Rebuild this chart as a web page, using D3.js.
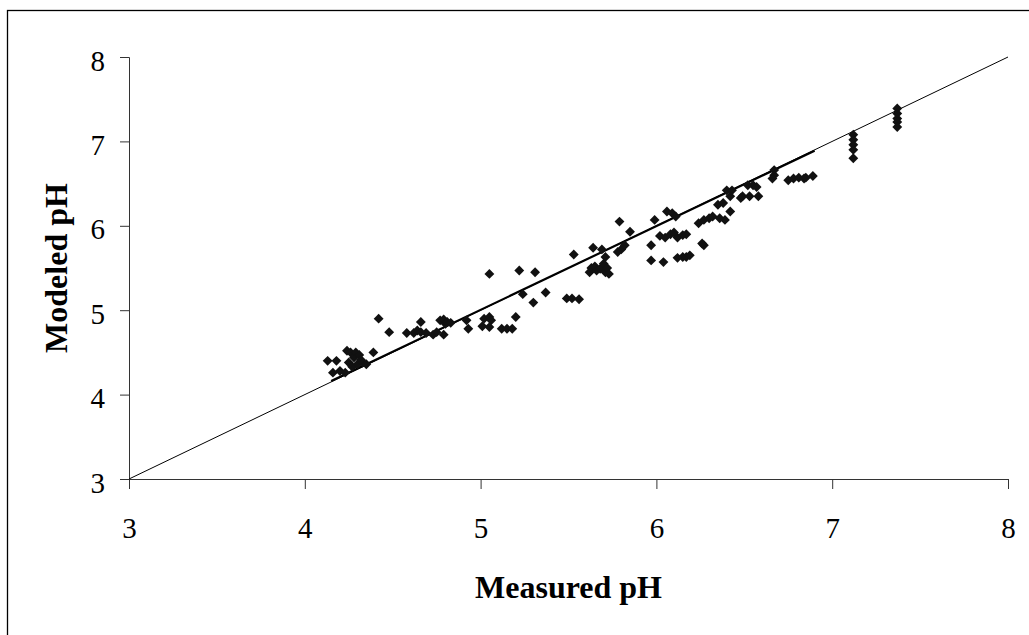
<!DOCTYPE html>
<html>
<head>
<meta charset="utf-8">
<script src="https://cdn.jsdelivr.net/npm/d3@7"></script>
<style>
  body { margin: 0; background: #fff; }
  text { font-family: "Liberation Serif", "Times New Roman", serif; }
</style>
</head>
<body>
<div id="viz"></div>
<script>
// measured vs modeled pH
const measured = [
  4.13, 4.18, 4.16, 4.20, 4.23, 4.24, 4.25, 4.26, 4.27, 4.28, 4.29, 4.30, 4.31, 4.32, 4.33, 4.35, 4.39,
  4.42, 4.48, 4.58, 4.62, 4.64, 4.66, 4.66, 4.69, 4.73, 4.75, 4.77, 4.79, 4.80, 4.81, 4.79, 4.83,
  4.92, 4.93, 5.01, 5.02, 5.05, 5.06, 5.05, 5.05, 5.12, 5.15, 5.18, 5.20, 5.22, 5.24, 5.30, 5.31, 5.37,
  5.49, 5.52, 5.56, 5.53, 5.64, 5.69, 5.71, 5.62, 5.63, 5.65, 5.66, 5.68, 5.70, 5.71, 5.72, 5.73,
  5.79, 5.78, 5.80, 5.82, 5.85, 5.97, 5.97, 6.04, 5.99, 6.02, 6.05, 6.08, 6.10, 6.12, 6.15, 6.17,
  6.06, 6.09, 6.11, 6.12, 6.15, 6.17, 6.19, 6.27, 6.26, 6.24, 6.27, 6.30, 6.32, 6.36, 6.39, 6.42,
  6.35, 6.38, 6.42, 6.40, 6.43, 6.48, 6.52, 6.49, 6.53, 6.58, 6.55, 6.57, 6.67, 6.67, 6.66,
  6.75, 6.78, 6.81, 6.84, 6.85, 6.89, 7.12, 7.12, 7.12, 7.12, 7.12, 7.37, 7.37, 7.37, 7.37, 7.37
]
const modeled = [
  4.40, 4.40, 4.26, 4.28, 4.26, 4.52, 4.38, 4.50, 4.33, 4.44, 4.50, 4.36, 4.47, 4.41, 4.38, 4.36, 4.50,
  4.90, 4.74, 4.73, 4.73, 4.76, 4.86, 4.74, 4.73, 4.71, 4.74, 4.88, 4.89, 4.84, 4.86, 4.71, 4.85,
  4.88, 4.78, 4.81, 4.90, 4.92, 4.88, 4.80, 5.43, 4.78, 4.78, 4.78, 4.92, 5.47, 5.19, 5.09, 5.45, 5.21,
  5.14, 5.14, 5.13, 5.66, 5.74, 5.72, 5.63, 5.45, 5.50, 5.52, 5.47, 5.49, 5.55, 5.45, 5.50, 5.43,
  6.05, 5.69, 5.72, 5.77, 5.93, 5.77, 5.59, 5.57, 6.07, 5.88, 5.86, 5.90, 5.92, 5.86, 5.89, 5.90,
  6.17, 6.15, 6.11, 5.62, 5.63, 5.63, 5.65, 5.77, 5.79, 6.03, 6.07, 6.09, 6.11, 6.09, 6.07, 6.17,
  6.25, 6.27, 6.35, 6.42, 6.42, 6.33, 6.48, 6.35, 6.35, 6.35, 6.48, 6.46, 6.66, 6.60, 6.56,
  6.54, 6.56, 6.57, 6.56, 6.57, 6.59, 7.08, 7.02, 6.96, 6.90, 6.80, 7.39, 7.33, 7.27, 7.23, 7.17
]

// 1:1 line and the fitted trend segment
const oneToOne = [3, 8]
const trendX = [4.15, 6.9]
const trendY = [4.16, 6.89]

const ticks = [3, 4, 5, 6, 7, 8]

const width = 1029
const height = 635

const svg = d3.select("#viz").append("svg")
    .attr("width", width)
    .attr("height", height)

// outer frame (right and bottom edges sit outside the picture)
svg.append("rect")
    .attr("x", 7.5)
    .attr("y", 10.5)
    .attr("width", 1040)
    .attr("height", 640)
    .attr("fill", "none")
    .attr("stroke", "#000")
    .attr("stroke-width", 1.3)

const x = d3.scaleLinear().domain([3, 8]).range([129, 1008])
const y = d3.scaleLinear().domain([3, 8]).range([479, 57])

// axes
const xAxis = svg.append("g")
    .attr("transform", `translate(0,${y(3)})`)
    .call(d3.axisBottom(x).tickValues(ticks).tickSize(10).tickFormat(d3.format("d")))
xAxis.selectAll("path, line").attr("stroke", "#333")
xAxis.selectAll("text")
    .attr("font-size", 29)
    .attr("fill", "#000")
    .attr("font-family", "Liberation Serif")
    .attr("y", 59)
    .attr("dy", 0)

const yAxis = svg.append("g")
    .attr("transform", `translate(${x(3)},0)`)
    .call(d3.axisLeft(y).tickValues(ticks).tickSize(9).tickFormat(d3.format("d")))
yAxis.selectAll("path, line").attr("stroke", "#333")
yAxis.selectAll("text")
    .attr("font-size", 29)
    .attr("fill", "#000")
    .attr("font-family", "Liberation Serif")
    .attr("x", -24)
    .attr("dy", 13)

// 1:1 line
svg.append("line")
    .attr("x1", x(oneToOne[0]))
    .attr("y1", y(oneToOne[0]))
    .attr("x2", x(oneToOne[1]))
    .attr("y2", y(oneToOne[1]))
    .attr("stroke", "#000")
    .attr("stroke-width", 1)

// trend line
svg.append("line")
    .attr("x1", x(trendX[0]))
    .attr("y1", y(trendY[0]))
    .attr("x2", x(trendX[1]))
    .attr("y2", y(trendY[1]))
    .attr("stroke", "#000")
    .attr("stroke-width", 2.2)

// diamond markers
const diamond = d3.symbol().type(d3.symbolDiamond2).size(62)
svg.append("g")
    .selectAll("path")
    .data(measured)
    .join("path")
    .attr("d", diamond)
    .attr("transform", (d, i) => `translate(${x(d)},${y(modeled[i])})`)
    .attr("fill", "#111")

// axis titles
svg.append("text")
    .text("Measured pH")
    .attr("x", (x(3) + x(8)) / 2)
    .attr("y", 598)
    .attr("text-anchor", "middle")
    .attr("font-size", 32)
    .attr("font-weight", "bold")

svg.append("text")
    .text("Modeled pH")
    .attr("transform", `translate(67,${(y(3) + y(8)) / 2}) rotate(-90)`)
    .attr("text-anchor", "middle")
    .attr("font-size", 32)
    .attr("font-weight", "bold")
</script>
</body>
</html>
